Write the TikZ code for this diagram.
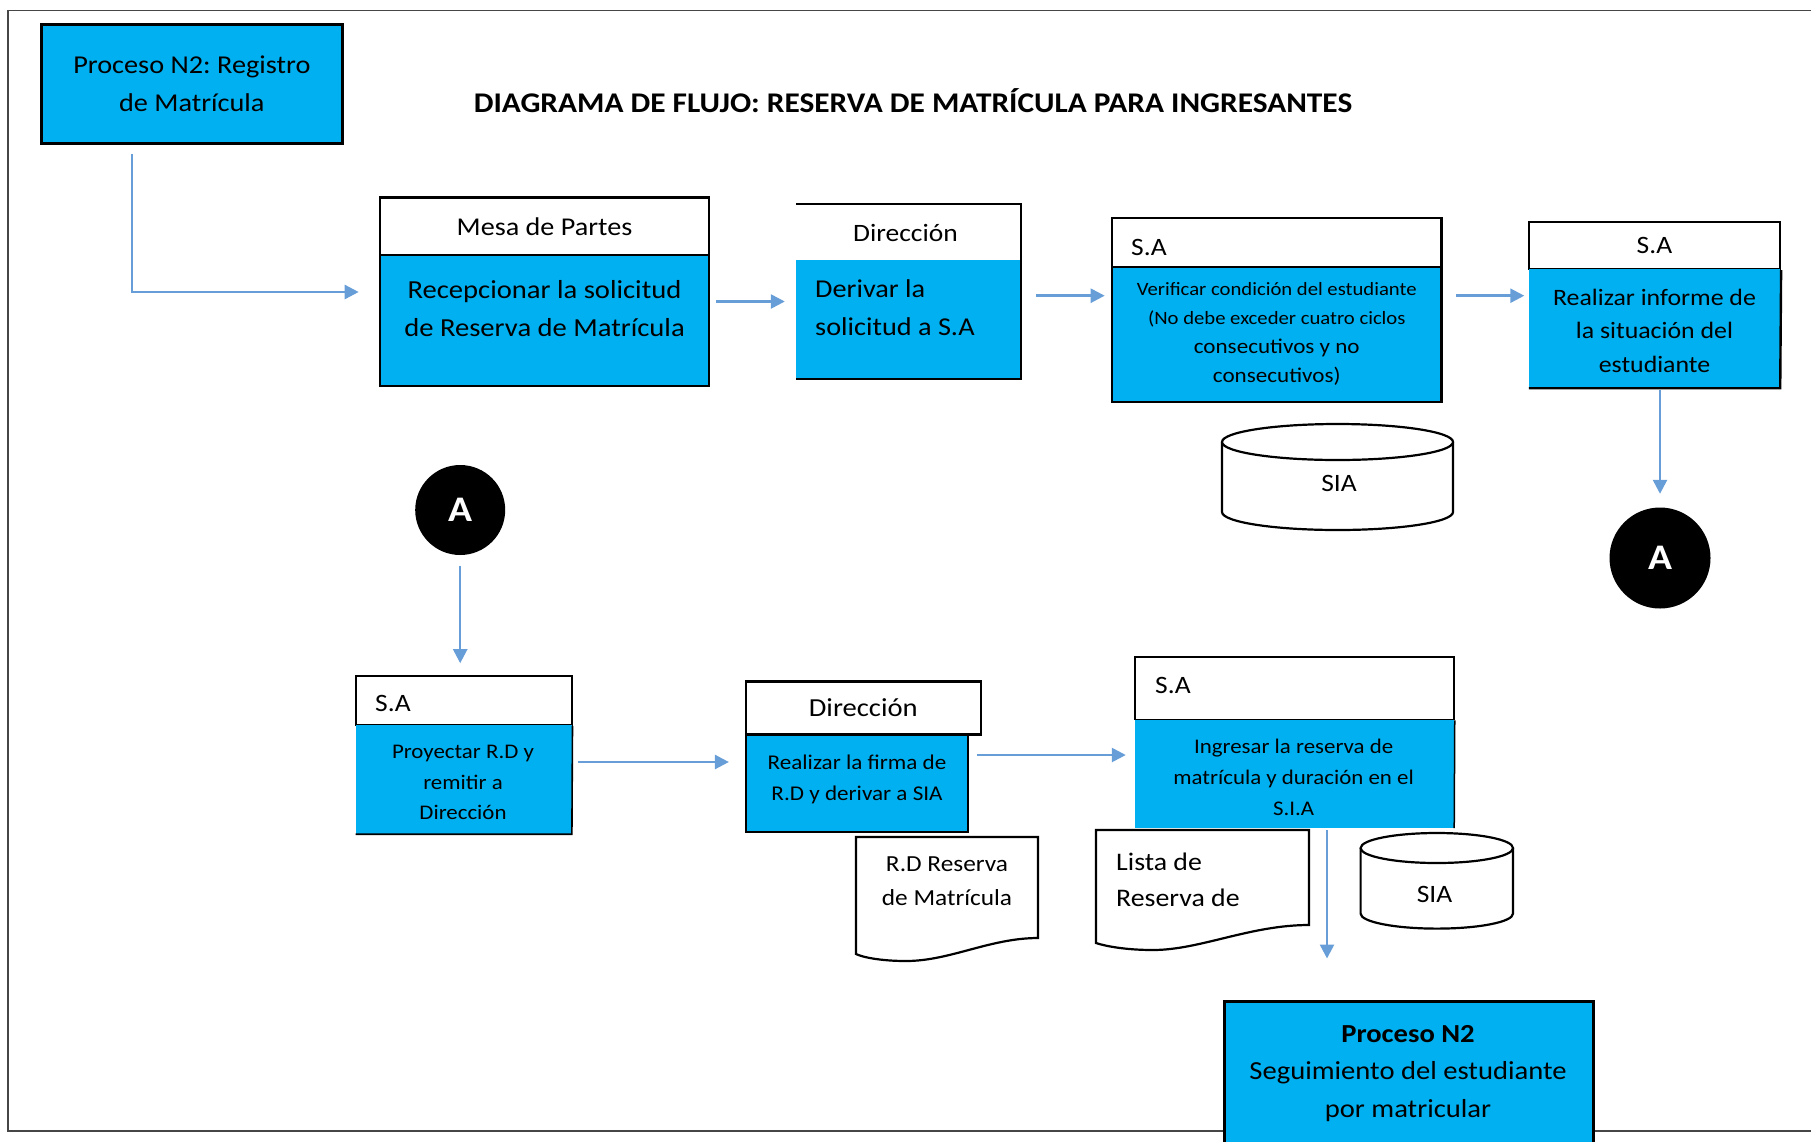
\documentclass[tikz,border=0pt]{standalone}
\usepackage{fontspec}
\setmainfont{Carlito}[FakeStretch=1.1]
\usetikzlibrary{arrows.meta}
\frenchspacing
\definecolor{cyanfill}{RGB}{0,176,240}
\definecolor{arrowblue}{RGB}{104,158,216}
\definecolor{framegray}{RGB}{70,70,70}
\newcommand{\fs}[2]{\fontsize{#1}{#2}\selectfont}
\tikzset{
  hdr/.style={draw=black, line width=2.2pt, fill=white, inner sep=0pt},
  hdrplain/.style={fill=white, inner sep=0pt},
  body/.style={fill=cyanfill, inner sep=0pt},
  bodyframed/.style={fill=cyanfill, draw=black, line width=2.6pt, inner sep=0pt},
  txt/.style={inner sep=0pt, align=center},
  txtl/.style={inner sep=0pt, align=left, anchor=west},
  edge/.style={draw=black, line width=2.4pt},
  arr/.style={draw=arrowblue, line width=2.5pt, -{Triangle[length=14pt,width=14pt]}},
  conn/.style={circle, fill=black, inner sep=0pt, text=white, font=\bfseries\fs{36}{40}},
  store/.style={draw=black, line width=2.2pt, fill=white},
}
\begin{document}
\begin{tikzpicture}[x=1pt, y=-1pt]
\useasboundingbox (0,0) rectangle (1811,1141);
% frame
\draw[framegray, line width=1.5pt] (1815,10.4) -- (8,10.4) -- (8,1131) -- (1815,1131);

% title
\node[txt, font=\bfseries\fs{28.5}{32}] (title) at (913,100.5) {DIAGRAMA DE FLUJO: RESERVA DE MATRÍCULA PARA INGRESANTES};

% Proceso N2 Registro
\node[bodyframed, line width=3pt, minimum width=300.4, minimum height=119, font=\fs{25.7}{38}, align=center] (p1) at (191.8,83.75) {Proceso N2: Registro\\de Matrícula};

% Mesa de Partes
\node[hdr, minimum width=329, minimum height=57.5, font=\fs{25.6}{30}] (h2) at (544.5,226.25) {Mesa de Partes};
\node[bodyframed, minimum width=329, minimum height=131] (b2) at (544.5,320.5) {};
\node[txt, font=\fs{26}{38}] (t2) at (544.5,309) {Recepcionar la solicitud\\de Reserva de Matrícula};

% Direccion (top)
\node[hdrplain, minimum width=225, minimum height=55.6] (h3) at (908.5,232.2) {};
\node[txt, font=\fs{25}{30}] (t3h) at (905.5,233) {Dirección};
\node[body, minimum width=225, minimum height=119] (b3) at (908.5,319.5) {};
\draw[black, line width=1.5pt] (h3.north west) -- (h3.north east) -- (h3.south east);
\draw[edge] (h3.south east) -- (b3.south east) -- (b3.south west);
\node[txtl, font=\fs{25.7}{38}] (t3) at (815,308) {Derivar la\\solicitud a S.A};

% S.A Verificar
\node[hdr, minimum width=329.5, minimum height=49] (h4) at (1276.75,242.5) {};
\node[txtl, font=\fs{25}{30}] (t4h) at (1131,247) {S.A};
\node[bodyframed, minimum width=329.5, minimum height=135] (b4) at (1276.75,334.5) {};
\node[txt, font=\fs{18.8}{29}] (t4) at (1276.75,334) {Verificar condición del estudiante\\(No debe exceder cuatro ciclos\\{\fs{21}{29}consecutivos y no}\\{\fs{21}{29}consecutivos)}};

% S.A Realizar informe
\node[hdr, minimum width=251, minimum height=47.2, font=\fs{25}{30}] (h5) at (1654.5,245.4) {S.A};
\node[body, minimum width=251, minimum height=119] (b5) at (1654.5,328.5) {};
\draw[edge] (h5.south east) -- (b5.south east) -- (b5.south west);
\node[txt, font=\fs{23.5}{33.5}] (t5) at (1654.5,330.5) {Realizar informe de\\la situación del\\estudiante};

% connector A right
\node[conn, minimum size=101] (cA2) at (1660,558) {A};

% SIA 1
\draw[store] (1222,442) -- (1222,512) arc[start angle=180, end angle=360, x radius=115.5pt, y radius=18pt] -- (1453,442);
\draw[store] (1337.5,442) ellipse [x radius=115.5pt, y radius=18pt];
\node[txt, font=\fs{25}{28}] (sia1) at (1339,483) {SIA};

% connector A left
\node[conn, minimum size=90] (cA1) at (460.2,510) {A};

% S.A Proyectar
\node[hdr, line width=1.6pt, minimum width=216, minimum height=49.3] (h6) at (463.7,700.35) {};
\node[txtl, font=\fs{25}{30}] (t6h) at (375,703) {S.A};
\node[body, minimum width=216, minimum height=109] (b6) at (463.7,779.5) {};
\draw[black, line width=1.6pt] (h6.south east) -- (b6.south east) -- (b6.south west);
\node[txt, font=\fs{20.8}{30.5}] (t6) at (463,782.5) {Proyectar R.D y\\remitir a\\Dirección};

% Direccion (bottom)
\node[hdr, minimum width=234.6, minimum height=53.1, font=\fs{26}{30}] (h7) at (863.3,708) {Dirección};
\node[bodyframed, line width=2.2pt, minimum width=222, minimum height=97] (b7) at (857,783.1) {};
\node[txt, font=\fs{21}{31}] (t7) at (857,779) {Realizar la firma de\\R.D y derivar a SIA};

% S.A Ingresar
\node[hdr, line width=1.5pt, minimum width=319, minimum height=62.6] (h8) at (1294.5,688.3) {};
\node[txtl, font=\fs{25}{30}] (t8h) at (1155,685) {S.A};
\node[body, minimum width=319, minimum height=108.4] (b8) at (1294.5,773.8) {};
\draw[black, line width=1.5pt] (h8.south east) -- (b8.south east);
\node[txt, font=\fs{20.8}{31}] (t8) at (1293.6,777) {Ingresar la reserva de\\matrícula y duración en el\\S.I.A};

% documents
\draw[store] (856,837) -- (1038,837) -- (1038,938) .. controls (990,938) and (950,961) .. (906,961) .. controls (880,961) and (862,957) .. (856,954) -- cycle;
\node[txt, font=\fs{23}{34.6}] (d1) at (947,881) {R.D Reserva\\de Matrícula};
\draw[store] (1096,830) -- (1309,830) -- (1309,925) .. controls (1250,925) and (1200,950) .. (1153,950) .. controls (1125,950) and (1105,946) .. (1096,943) -- cycle;
\node[txtl, font=\fs{25.3}{36}] (d2) at (1116,879.5) {Lista de\\Reserva de};

% SIA 2
\draw[store] (1360.6,848) -- (1360.6,913.6) arc[start angle=180, end angle=360, x radius=76.2pt, y radius=15pt] -- (1513,848);
\draw[store] (1436.8,848) ellipse [x radius=76.2pt, y radius=15pt];
\node[txt, font=\fs{25}{28}] (sia2) at (1434.5,894) {SIA};

% Proceso N2 final
\node[bodyframed, line width=3pt, minimum width=369, minimum height=159] (p2) at (1408.5,1080.5) {};
\node[txt, font=\fs{26}{37.5}] (t9) at (1408,1073.5) {\textbf{Proceso N2}\\Seguimiento del estudiante\\por matricular};

% connectors
\draw[arr] ([shift={(-60,9)}]p1.south) |- ([shift={(-20,-28.5)}]b2.west);
\draw[arr] ([shift={(6,-19)}]b2.east) -- ([shift={(-11,-18)}]b3.west);
\draw[arr] ([shift={(15,-23.8)}]b3.east) -- ([shift={(-6,-38.8)}]b4.west);
\draw[arr] ([shift={(13.5,-38.8)}]b4.east) -- ([shift={(-4.5,-32.8)}]b5.west);
\draw[arr] ([shift={(5.5,2)}]b5.south) -- ([shift={(0,-13.5)}]cA2.north);
\draw[arr, shorten <=10.5pt, shorten >=11.7pt] (cA1.south) -- (cA1.south |- h6.north);
\draw[arr] ([shift={(5.8,-17.5)}]b6.east) -- ([shift={(-16,-21.1)}]b7.west);
\draw[arr] ([shift={(8,-28.1)}]b7.east) -- ([shift={(-9,-18.8)}]b8.west);
\draw[arr] ([shift={(32.5,2)}]b8.south) -- ([shift={(-81.5,-41)}]p2.north);
\end{tikzpicture}
\end{document}
